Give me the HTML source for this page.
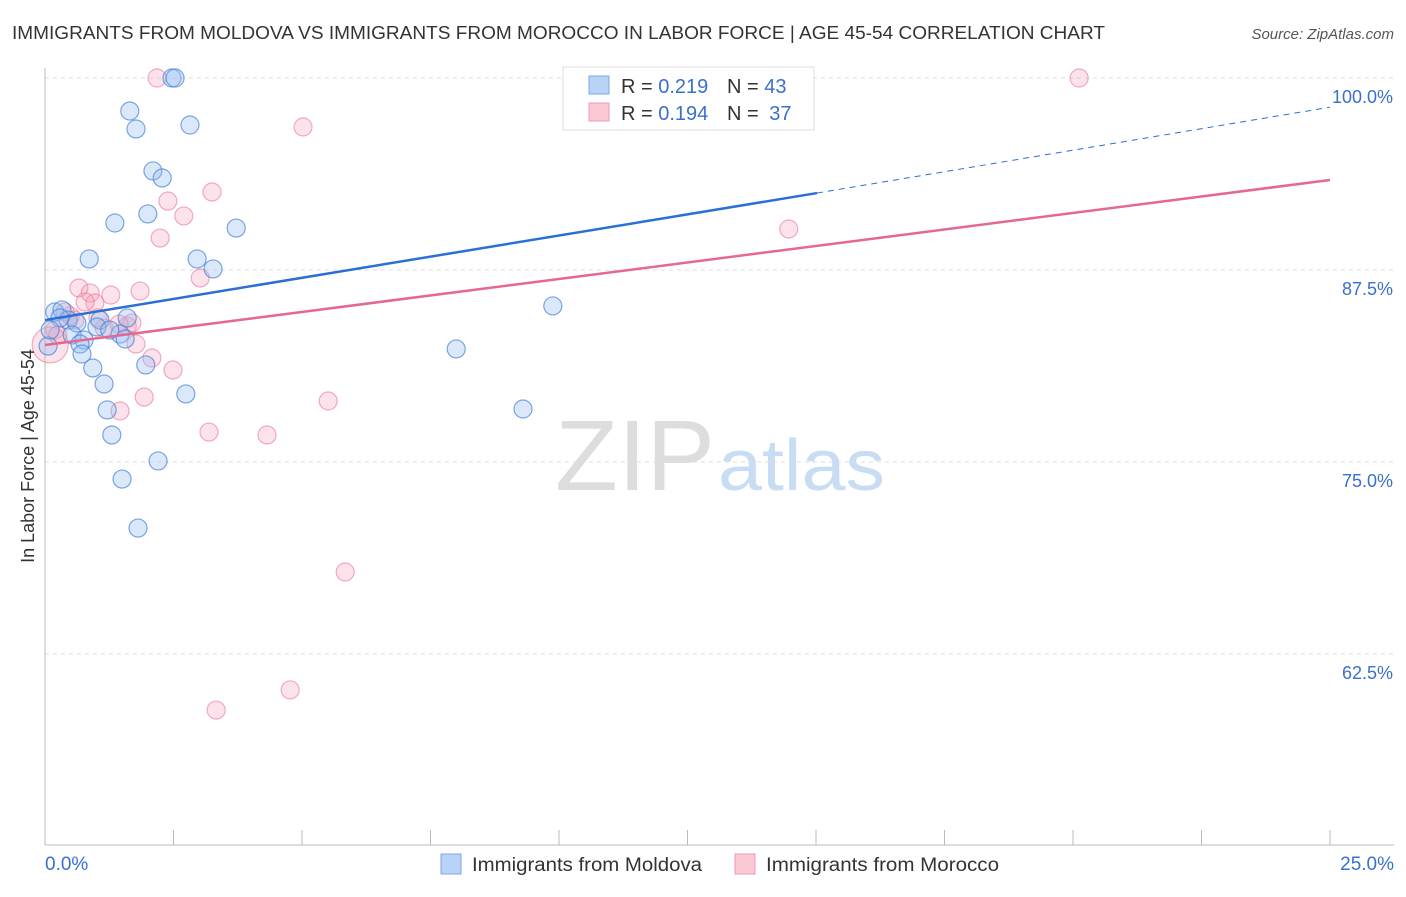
<!DOCTYPE html>
<html><head><meta charset="utf-8"><style>
body{margin:0;background:#fff;font-family:"Liberation Sans",sans-serif}
svg text{font-family:"Liberation Sans",sans-serif}
</style></head><body>
<svg width="1406" height="892">
<text x="12" y="39" font-size="18" fill="#333" textLength="1093" lengthAdjust="spacingAndGlyphs">IMMIGRANTS FROM MOLDOVA VS IMMIGRANTS FROM MOROCCO IN LABOR FORCE | AGE 45-54 CORRELATION CHART</text>
<text x="1394" y="39" font-size="15" fill="#555" font-style="italic" text-anchor="end">Source: ZipAtlas.com</text>
<text x="555" y="490" font-size="100" fill="#ddd" textLength="160" lengthAdjust="spacingAndGlyphs" font-family="Liberation Serif">ZIP</text>
<text x="718" y="490" font-size="72" fill="#c8dcf4" textLength="167" lengthAdjust="spacingAndGlyphs">atlas</text>
<g id="grid"></g><g id="axes"></g><g id="marks"></g>
<text transform="translate(34,456) rotate(-90)" font-size="18" fill="#333" text-anchor="middle">In Labor Force | Age 45-54</text>
<g>
<rect x="563" y="67" width="251" height="63" fill="#fff" stroke="#ddd"/>
<rect x="589" y="76" width="20" height="18" fill="#b8d3f5" stroke="#7aa8e4"/>
<rect x="589" y="103" width="20" height="18" fill="#fbc8d6" stroke="#ef9ab2"/>
<text x="621" y="93" font-size="20" fill="#333">R = <tspan fill="#3a70cc">0.219</tspan></text>
<text x="727" y="93" font-size="20" fill="#333">N = <tspan fill="#3a70cc">43</tspan></text>
<text x="621" y="120" font-size="20" fill="#333">R = <tspan fill="#3a70cc">0.194</tspan></text>
<text x="727" y="120" font-size="20" fill="#333">N = <tspan fill="#3a70cc" dx="5">37</tspan></text>
</g>
<g>
<rect x="441" y="854" width="20" height="20" fill="#b8d3f5" stroke="#7aa8e4"/>
<text x="472" y="871" font-size="19" fill="#333" textLength="230" lengthAdjust="spacingAndGlyphs">Immigrants from Moldova</text>
<rect x="735" y="854" width="20" height="20" fill="#fbc8d6" stroke="#ef9ab2"/>
<text x="766" y="871" font-size="19" fill="#333" textLength="233" lengthAdjust="spacingAndGlyphs">Immigrants from Morocco</text>
</g>
</svg>
<script>
const blueX=[2.47,2.53,13.64,1.65,1.77,2.82,2.10,2.28,2.00,1.36,3.72,0.86,2.96,3.27,9.88,0.19,0.33,0.45,0.62,1.07,1.01,1.60,1.46,1.56,0.53,0.76,0.68,0.72,0.93,1.96,1.15,2.74,8.00,1.21,9.30,1.30,2.20,1.50,1.81,0.06,0.29,0.10,1.26];
const blueY=[100,100,100,97.85,96.68,96.94,93.95,93.49,91.15,90.56,90.23,88.22,88.22,87.57,85.16,84.77,84.90,84.24,84.05,84.24,83.79,84.38,83.33,83.01,83.27,82.94,82.68,82.03,81.12,81.32,80.08,79.43,82.36,78.39,78.45,76.76,75.07,73.89,70.70,82.55,84.38,83.59,83.59];
const pinkX=[2.18,20.12,5.02,3.25,2.39,2.70,2.24,14.47,3.02,0.66,0.88,1.28,0.97,0.78,1.85,0.49,1.15,1.60,1.69,1.77,2.08,2.49,0.19,0.10,0.25,1.46,1.93,5.51,3.19,4.32,5.84,4.77,3.33,1.03,0.39,1.44,0.58];
const pinkY=[100,100,96.81,92.58,91.99,91.02,89.58,90.17,86.98,86.33,86.00,85.87,85.35,85.42,86.13,84.51,83.72,83.85,84.05,82.68,81.77,80.99,83.59,82.62,83.27,78.32,79.23,78.97,76.95,76.76,67.84,60.16,58.85,84.38,84.77,83.98,84.24];
const blueTrend=[84.24,92.51,98.1]; // at x=0, 15.02, 25
const pinkTrend=[82.62,93.36]; // at x=0, 25
const yTicks=[100,87.5,75,62.5];
const yTickLabels=["100.0%","87.5%","75.0%","62.5%"];
const xLabels=["0.0%","25.0%"];
const NS="http://www.w3.org/2000/svg";
const X=v=>45+v/25*1285, Y=v=>78+(100-v)/12.5*192;
function mk(tag,attrs,parent){const e=document.createElementNS(NS,tag);for(const k in attrs)e.setAttribute(k,attrs[k]);document.getElementById(parent).appendChild(e);return e;}
yTicks.forEach((t,i)=>{
 const l=mk('line',{x1:45,x2:1394,y1:Y(t),y2:Y(t),stroke:'#ddd','stroke-dasharray':'4,4'},'grid');
 
 
 const tx=mk('text',{x:1393,y:Y(t)+25,'font-size':18,fill:'#3a70cc','text-anchor':'end'},'grid');tx.textContent=yTickLabels[i];
 
 
});
let a=mk('line',{x1:45,x2:45,y1:68,y2:845,stroke:'#bbb'},'axes');


a=mk('line',{x1:45,x2:1394,y1:845,y2:845,stroke:'#bbb'},'axes');


for(let i=1;i<=10;i++){const tk=mk('line',{x1:X(i*2.5),x2:X(i*2.5),y1:830,y2:845,stroke:'#bbb'},'axes');
 
 }
let t1=mk('text',{x:45,y:870,'font-size':19,fill:'#3a70cc'},'axes');t1.textContent=xLabels[0];


t1=mk('text',{x:1394,y:870,'font-size':19,fill:'#3a70cc','text-anchor':'end'},'axes');t1.textContent=xLabels[1];


pinkX.forEach((x,i)=>{const c=mk('circle',{cx:X(x),cy:Y(pinkY[i]),r:(i===23?18:9),fill:'rgba(245,160,185,0.3)',stroke:'rgba(232,120,155,0.6)','stroke-width':1.2},'marks');
 
 });
blueX.forEach((x,i)=>{const c=mk('circle',{cx:X(x),cy:Y(blueY[i]),r:9,fill:'rgba(150,190,240,0.35)',stroke:'rgba(70,130,215,0.7)','stroke-width':1.2},'marks');
 
 });
let ln=mk('line',{x1:X(0),y1:Y(blueTrend[0]),x2:X(15.02),y2:Y(blueTrend[1]),stroke:'#2a6fd4','stroke-width':2.5},'marks');


ln=mk('line',{x1:X(15.02),y1:Y(blueTrend[1]),x2:X(25),y2:Y(blueTrend[2]),stroke:'#2a6fd4','stroke-width':1,'stroke-dasharray':'6,5'},'marks');


ln=mk('line',{x1:X(0),y1:Y(pinkTrend[0]),x2:X(25),y2:Y(pinkTrend[1]),stroke:'#e4688f','stroke-width':2.5},'marks');


</script>
</body></html>
